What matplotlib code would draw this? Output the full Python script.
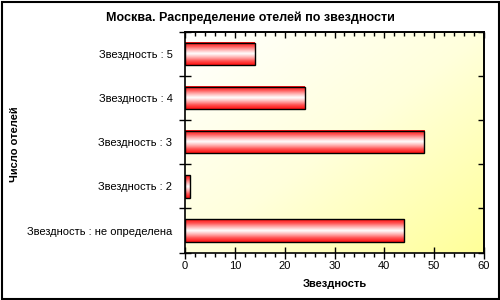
import numpy as np
import matplotlib
matplotlib.use('Agg')
import matplotlib.pyplot as plt
from matplotlib.colors import LinearSegmentedColormap
from matplotlib.patches import Rectangle

# данные
categories = ['Звездность : не определена', 'Звездность : 2', 'Звездность : 3',
              'Звездность : 4', 'Звездность : 5']
hotels = [44, 1, 48, 24, 14]
x_ticks = [0, 10, 20, 30, 40, 50, 60]

plt.rcParams['font.family'] = ['Liberation Sans', 'DejaVu Sans']

fig = plt.figure(figsize=(5, 3), dpi=100)
ax = fig.add_axes([0.37, 0.158, 0.598, 0.736])

# фон с градиентом: белый слева сверху, жёлтый справа снизу
gx, gy = np.meshgrid(np.linspace(0, 1, 200), np.linspace(0, 1, 200))
g = (gx + gy) / 2
bg_cmap = LinearSegmentedColormap.from_list('bg', ['#ffffff', '#ffffdc', '#ffff99'])
ax.imshow(g, cmap=bg_cmap, extent=(0, 1, 0, 1), transform=ax.transAxes,
          aspect='auto', zorder=0, vmin=0, vmax=1)

# полосы с градиентом красный-белый-красный
bar_h = 0.51
bar_cmap = LinearSegmentedColormap.from_list('bar', ['#ffffff', '#ffb0b0', '#ff5050', '#ff1010'])
grad = np.abs(np.linspace(-1, 1, 64)).reshape(-1, 1)
for i, v in enumerate(hotels):
    ax.imshow(grad, cmap=bar_cmap, extent=(0, v, i - bar_h / 2, i + bar_h / 2),
              aspect='auto', zorder=2, vmin=0, vmax=1, interpolation='bilinear')
    ax.add_patch(Rectangle((0, i - bar_h / 2), v, bar_h, facecolor='none',
                           edgecolor='black', linewidth=1.0, zorder=3))

ax.set_xlim(0, 60)
ax.set_ylim(-0.5, len(categories) - 0.5)

ax.set_xticks(x_ticks)
ax.set_xticks(np.arange(0, 61, 2), minor=True)
ax.set_yticks(range(len(categories)))
ax.set_yticklabels(categories)
ax.set_yticks(np.arange(-0.5, len(categories), 1), minor=True)

ax.tick_params(axis='x', which='major', direction='inout', length=8, width=1,
               labelsize=8, pad=2)
ax.tick_params(axis='x', which='minor', direction='out', length=3, width=1)
ax.tick_params(axis='y', which='major', length=0, labelsize=8, pad=9)
ax.tick_params(axis='y', which='minor', direction='inout', length=8, width=1)

# верхняя и правая оси: засечки внутрь
top = ax.secondary_xaxis('top')
top.set_xticks(x_ticks)
top.set_xticks(np.arange(0, 61, 2), minor=True)
top.tick_params(which='major', direction='in', length=4, width=1, labeltop=False)
top.tick_params(which='minor', direction='in', length=3, width=1)
right = ax.secondary_yaxis('right')
right.set_yticks(np.arange(-0.5, len(categories), 1))
right.tick_params(direction='in', length=4, width=1, labelright=False)
right.tick_params(which='minor', length=0)

for s in list(ax.spines.values()) + [top.spines['top'], right.spines['right']]:
    s.set_linewidth(1.2)

ax.set_xlabel('Звездность', fontsize=8, fontweight='bold', labelpad=6)
fig.text(0.03, 0.52, 'Число отелей', rotation=90, fontsize=8, fontweight='bold',
         ha='center', va='center')
fig.text(0.5, 0.94, 'Москва. Распределение отелей по звездности', fontsize=9,
         fontweight='bold', ha='center', va='center')

# рамка вокруг всего рисунка
fig.patches.append(Rectangle((0.003, 0.005), 0.994, 0.99, transform=fig.transFigure,
                             fill=False, edgecolor='black', linewidth=1.5))

fig.savefig('out.png', dpi=100)
